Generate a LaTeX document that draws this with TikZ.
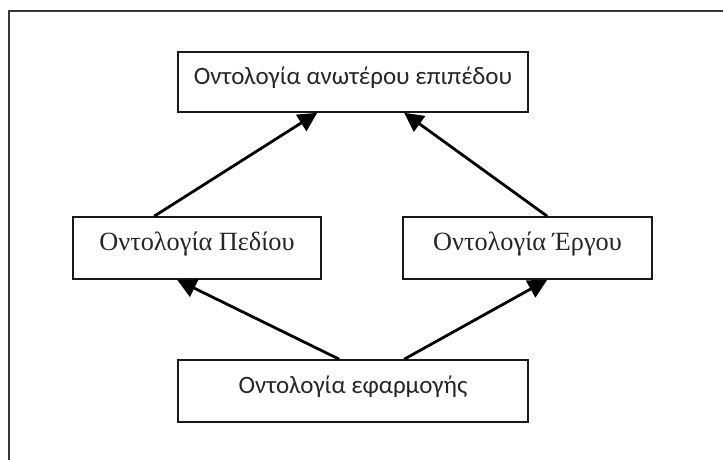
\documentclass[tikz,border=0pt]{standalone}
\usepackage{fontspec}
\setmainfont{Liberation Serif}
\newfontfamily\grsans{Carlito}
\usetikzlibrary{arrows.meta,calc}
\begin{document}
\begin{tikzpicture}[x=1pt,y=-1pt,
  frameline/.style={draw=black!78,line width=2pt},
  onto/.style={draw=black!90,line width=1.6pt,fill=white,inner sep=0pt,
    text height=15pt,text depth=11pt},
  sanslabel/.style={font=\grsans\fontsize{25}{28}\selectfont,text=black!85},
  seriflabel/.style={font=\fontsize{26.3}{29}\selectfont,text=black!85},
  link/.style={line width=2.8pt,-{Triangle[length=19pt,width=19pt]}}]
\useasboundingbox (0,0) rectangle (723,459);
\fill[white] (0,0) rectangle (723,459);
% open frame: only the top and left sides fall inside the page
\draw[frameline] (9,470) -- (9,11) -- (730,11);
% ontology boxes
\node[onto,sanslabel,minimum width=350pt,minimum height=60pt] (upper) at (353,82) {Οντολογία ανωτέρου επιπέδου};
\node[onto,seriflabel,minimum width=248pt,minimum height=62pt] (domain) at (197,248) {Οντολογία Πεδίου};
\node[onto,seriflabel,minimum width=249pt,minimum height=62pt] (task) at (527.5,248) {Οντολογία Έργου};
\node[onto,sanslabel,minimum width=350pt,minimum height=62pt] (app) at (353,391) {Οντολογία εφαρμογής};
% specialisation links
\draw[link] ($(domain.north west)+(82,0)$) -- ($(upper.south west)+(140,0)$);
\draw[link] ($(task.north west)+(145,0)$) -- ($(upper.south west)+(227,0)$);
\draw[link] ($(app.north west)+(162,0)$) -- ($(domain.south west)+(105,0)$);
\draw[link] ($(app.north west)+(227,0)$) -- ($(task.south west)+(145,0)$);
\end{tikzpicture}
\end{document}
